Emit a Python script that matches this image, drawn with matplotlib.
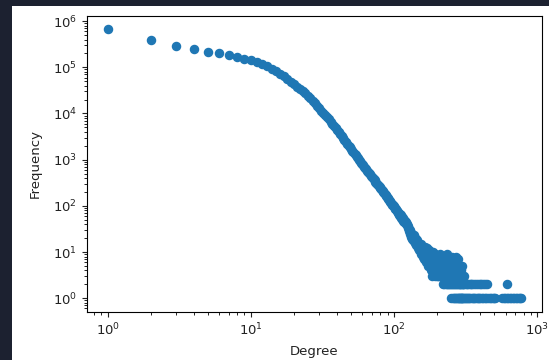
import matplotlib
matplotlib.use("Agg")
from matplotlib import pyplot as plt
import matplotlib.patches as patches

# degree distribution
head_degree = list(range(1, 121))
head_freq = [
    670000, 400000, 285000, 246000, 215000, 201000, 185000, 167000, 155000, 142000,
    130000, 118000, 105000, 93000, 83000, 72300, 63400, 56000, 49200, 43300,
    38200, 33900, 30300, 27200, 24500, 21700, 19000, 16600, 14700, 13000,
    11500, 10300, 9200, 8300, 7450, 6640, 5930, 5310, 4770, 4300,
    3880, 3520, 3190, 2900, 2640, 2410, 2210, 2020, 1860, 1710,
    1575, 1455, 1345, 1245, 1155, 1075, 998, 929, 865, 807,
    755, 706, 662, 620, 582, 547, 514, 483, 454, 427,
    402, 378, 357, 337, 318, 301, 284, 269, 255, 242,
    229, 217, 206, 196, 187, 177, 169, 161, 153, 146,
    140, 133, 127, 122, 116, 111, 106, 102, 97, 93,
    90, 84, 85, 77, 78, 70, 73, 65, 68, 60,
    63, 55, 58, 51, 54, 47, 50, 44, 47, 41,
]

mid_degree = list(range(121, 301))
mid_freq = [
    45, 38, 41, 33, 36, 29, 31, 27, 30, 24,
    26, 21, 25, 19, 22, 18, 23, 17, 20, 16,
    19, 14, 17, 15, 18, 12, 16, 13, 15, 11,
    14, 12, 10, 15, 9, 13, 11, 8, 12, 10,
    7, 11, 9, 13, 8, 10, 6, 9, 12, 7,
    10, 8, 5, 9, 7, 11, 6, 8, 5, 9,
    7, 4, 3, 6, 8, 5, 10, 6, 4, 7,
    5, 9, 3, 6, 4, 8, 5, 3, 7, 4,
    6, 3, 8, 5, 4, 7, 3, 5, 9, 4,
    6, 3, 5, 7, 4, 3, 6, 5, 2, 4,
    8, 3, 5, 2, 6, 4, 3, 7, 2, 5,
    3, 4, 9, 2, 3, 6, 4, 2, 5, 3,
    7, 2, 4, 3, 6, 2, 5, 3, 4, 2,
    1, 3, 8, 2, 4, 1, 5, 3, 2, 6,
    1, 3, 2, 7, 4, 1, 2, 3, 5, 1,
    2, 8, 3, 1, 4, 2, 7, 1, 3, 2,
    5, 1, 2, 4, 1, 3, 2, 1, 3, 2,
    1, 4, 2, 1, 3, 1, 2, 5, 1, 2,
]

tail_degree = [
    303, 306,
    302, 308, 315, 321, 330, 338, 345, 352, 360, 371, 383, 395, 405, 418, 430, 444, 617,
    303, 307, 312, 318, 323, 329, 334, 340, 347, 355, 361, 368, 376, 384, 393, 400,
    411, 420, 432, 440, 452, 463, 475, 488, 500, 506,
    566, 580, 597, 610, 626, 640, 655, 672, 690, 705, 722, 740, 758, 772,
]
tail_freq = [
    3, 3,
    2, 2, 2, 2, 2, 2, 2, 2, 2, 2, 2, 2, 2, 2, 2, 2, 2,
    1, 1, 1, 1, 1, 1, 1, 1, 1, 1, 1, 1, 1, 1, 1, 1,
    1, 1, 1, 1, 1, 1, 1, 1, 1, 1,
    1, 1, 1, 1, 1, 1, 1, 1, 1, 1, 1, 1, 1, 1,
]

degree = head_degree + mid_degree + tail_degree
freq = head_freq + mid_freq + tail_freq

fig = plt.figure(figsize=(5.49, 3.6), dpi=100, facecolor='#1c2130')
# white notebook output cell behind the axes
fig.patches.append(patches.Rectangle((12 / 549, 0), 1, 354 / 360, transform=fig.transFigure,
                                     facecolor='white', edgecolor='none', zorder=-10))

ax = fig.add_axes([87 / 549, 48.3 / 360, 455 / 549, 296 / 360])
ax.scatter(degree, freq, s=34, color='#1f77b4')
ax.set_xscale('log')
ax.set_yscale('log')
ax.set_xlabel('Degree', fontsize=9.5, color='#222222', labelpad=5)
ax.set_ylabel('Frequency', fontsize=9.5, color='#222222', labelpad=8)
ax.tick_params(labelsize=9.5, colors='#222222')

fig.savefig('out.png', dpi=100, facecolor=fig.get_facecolor())
